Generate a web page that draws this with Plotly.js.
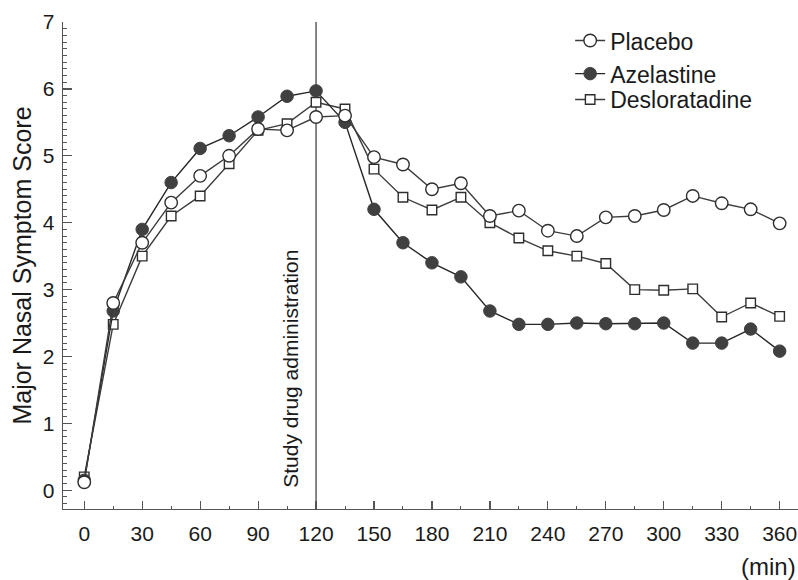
<!DOCTYPE html>
<html>
<head>
<meta charset="utf-8">
<script src="https://cdn.plot.ly/plotly-3.0.1.min.js"></script>
<style>html,body{margin:0;padding:0;background:#fff}#chart{width:798px;height:580px}</style>
</head>
<body>
<div id="chart"></div>
<script>
const minutes = [0,15,30,45,60,75,90,105,120,135,150,165,180,195,210,225,240,255,270,285,300,315,330,345,360];
const placebo = [0.12,2.8,3.7,4.3,4.7,5.0,5.4,5.38,5.58,5.6,4.98,4.87,4.5,4.59,4.1,4.18,3.88,3.8,4.08,4.1,4.19,4.4,4.29,4.2,3.99];
const azelastine = [0.15,2.68,3.9,4.6,5.11,5.3,5.58,5.89,5.97,5.5,4.2,3.7,3.4,3.19,2.68,2.48,2.48,2.5,2.49,2.49,2.5,2.2,2.2,2.41,2.08];
const desloratadine = [0.2,2.48,3.5,4.1,4.4,4.88,5.38,5.48,5.8,5.7,4.8,4.38,4.19,4.38,4.0,3.77,3.58,3.5,3.39,3.0,2.99,3.01,2.59,2.8,2.6];
const seriesNames = ["Placebo","Azelastine","Desloratadine"];
const xTickVals = [0,30,60,90,120,150,180,210,240,270,300,330,360];
const yTickVals = [0,1,2,3,4,5,6,7];
const drugTime = 120;

const FONT = "Liberation Sans, Arial, Helvetica, sans-serif";

const traces = [
  {x: minutes, y: desloratadine, name: seriesNames[2], legend: "legend3", type: "scatter", mode: "lines+markers",
   line: {color: "#3c3c3c", width: 1.4},
   marker: {symbol: "square", size: 9.5, color: "#ffffff", line: {color: "#2e2e2e", width: 1.4}}},
  {x: minutes, y: azelastine, name: seriesNames[1], legend: "legend2", type: "scatter", mode: "lines+markers",
   line: {color: "#262626", width: 1.4},
   marker: {symbol: "circle", size: 12.5, color: "#404040", line: {color: "#404040", width: 1}}},
  {x: minutes, y: placebo, name: seriesNames[0], legend: "legend", type: "scatter", mode: "lines+markers",
   line: {color: "#3c3c3c", width: 1.4},
   marker: {symbol: "circle", size: 12.5, color: "#ffffff", line: {color: "#2e2e2e", width: 1.4}}}
];

function legendAt(yPaper) {
  return {
    x: 0.69, y: yPaper, xanchor: "left", yanchor: "top",
    bgcolor: "rgba(0,0,0,0)", itemsizing: "trace",
    font: {family: FONT, size: 23, color: "#1a1a1a"}
  };
}

const layout = {
  width: 798, height: 580,
  margin: {l: 63, r: 0, t: 22, b: 71},
  paper_bgcolor: "#ffffff", plot_bgcolor: "#ffffff",
  font: {family: FONT, color: "#1a1a1a", size: 21},
  showlegend: true,
  legend: legendAt(1.006),
  legend2: legendAt(0.938),
  legend3: legendAt(0.885),
  xaxis: {
    range: [-11.0, 369.5], showgrid: false, zeroline: false,
    showline: true, linecolor: "#555555", linewidth: 1.3, mirror: false,
    tickmode: "array", tickvals: xTickVals, ticktext: xTickVals.map(String),
    ticks: "inside", ticklen: 8, tickwidth: 1.2, tickcolor: "#555555",
    minor: {dtick: 15, tick0: 0, ticks: "inside", ticklen: 3, tickwidth: 1, tickcolor: "#555555", showgrid: false},
    tickfont: {family: FONT, size: 21, color: "#1a1a1a"},
    ticklabelstandoff: 5
  },
  yaxis: {
    range: [-0.28, 7.0], showgrid: false, zeroline: false,
    showline: true, linecolor: "#555555", linewidth: 1.3,
    tickmode: "array", tickvals: yTickVals, ticktext: yTickVals.map(String),
    ticks: "inside", ticklen: 9, tickwidth: 1.2, tickcolor: "#555555",
    minor: {dtick: 0.1, tick0: 0, ticks: "inside", ticklen: 4, tickwidth: 1, tickcolor: "#555555", showgrid: false},
    tickfont: {family: FONT, size: 21, color: "#1a1a1a"},
    ticklabelstandoff: 3,
    title: {text: "Major Nasal Symptom Score", font: {family: FONT, size: 25, color: "#1a1a1a"}, standoff: 4}
  },
  shapes: [
    {type: "line", xref: "x", yref: "paper", x0: drugTime, x1: drugTime, y0: 0, y1: 1,
     line: {color: "#444444", width: 1.3}, layer: "below"}
  ],
  annotations: [
    {xref: "x", yref: "y", x: drugTime, y: 0, xanchor: "right", yanchor: "bottom",
     xshift: -12, textangle: -90, showarrow: false,
     text: "Study drug administration", font: {family: FONT, size: 21, color: "#1a1a1a"}},
    {xref: "paper", yref: "paper", x: 1, y: -0.086, xanchor: "right", yanchor: "top",
     showarrow: false, text: "(min)", font: {family: FONT, size: 24, color: "#1a1a1a"}}
  ]
};

Plotly.newPlot("chart", traces, layout, {displayModeBar: false, staticPlot: true});
</script>
</body>
</html>
